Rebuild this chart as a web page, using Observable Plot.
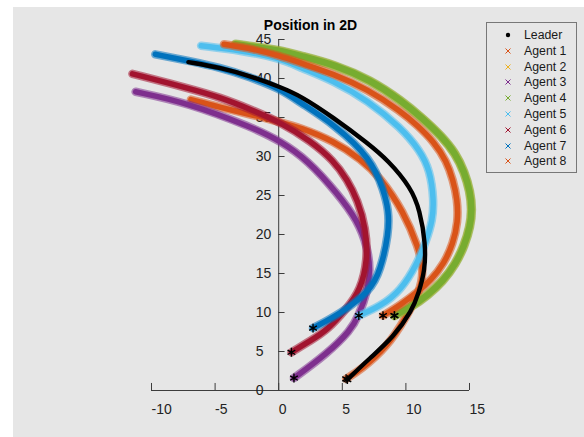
<!DOCTYPE html>
<html><head><meta charset="utf-8">
<script src="https://cdn.jsdelivr.net/npm/d3@7"></script>
<script src="https://cdn.jsdelivr.net/npm/@observablehq/plot@0.6"></script>
<style>
html,body{margin:0;padding:0;background:#fff;width:584px;height:437px;overflow:hidden;position:relative;}
#bg{position:absolute;left:13px;top:7px;right:0;bottom:0;background:#e6e6e6;}
#chart{position:absolute;left:0;top:0;}
#legend{position:absolute;left:486px;top:22px;width:91px;height:151px;border:1px solid #777;box-sizing:border-box;font-family:"Liberation Sans",Arial,sans-serif;font-size:12.3px;color:#1a1a1a;}
.row{position:absolute;left:0;height:14px;line-height:14px;width:100%;}
.row svg{position:absolute;left:16px;top:2px;}
.row span{position:absolute;left:37px;top:0;white-space:nowrap;}
</style></head>
<body>
<div id="bg"></div>
<div id="chart"></div>
<div id="legend"></div>
<script>
// ---- data ----
const seriesNames = ["Leader","Agent 1","Agent 2","Agent 3","Agent 4","Agent 5","Agent 6","Agent 7","Agent 8"];
const seriesColors = ["#000000","#D95319","#EDB120","#7E2F8E","#77AC30","#4DBEEE","#A2142F","#0072BD","#D95319"];

const leaderX = [5.4, 7.2, 9.0, 10.5, 11.0, 11.5, 11.55, 11.1, 10.4, 8.6, 7.0, 4.3, 1.7, 0.1, -2.0, -4.6, -7.1];
const leaderY = [1.4, 4.2, 6.8, 10.3, 12.5, 15.4, 18.8, 23.1, 26.0, 29.5, 31.7, 35.0, 37.8, 38.9, 40.2, 41.4, 42.1];

const agent1X = [5.3, 6.4, 8.5, 10.1, 11.1, 11.4, 11.0, 9.8, 8.0, 6.5, 4.3, 1.7, 0.1, -2.0, -4.6, -6.9];
const agent1Y = [1.5, 2.6, 5.5, 9.6, 12.8, 15.4, 18.3, 23.0, 27.3, 29.6, 32.0, 33.7, 34.4, 35.3, 36.3, 37.3];

const agent2X = [9.1, 10.4, 11.7, 12.9, 13.9, 14.6, 15.05, 15.2, 15.05, 14.6, 13.9, 12.8, 11.3, 9.6, 7.2, 4.5, 1.7, 0.1, -3.4];
const agent2Y = [9.6, 10.7, 12.2, 14.0, 16.2, 18.6, 21.0, 23.2, 25.5, 28.0, 30.4, 32.6, 34.9, 37.2, 39.8, 41.7, 42.9, 43.6, 44.4];

const agent3X = [1.2, 3.8, 5.65, 6.3, 7.0, 7.2, 7.0, 6.2, 4.6, 2.3, 0.1, -2.0, -7.2, -11.25];
const agent3Y = [1.6, 4.7, 7.7, 9.6, 12.8, 15.4, 18.3, 21.8, 25.3, 29.5, 32.0, 33.7, 36.9, 38.3];

const agent4X = [9.1, 10.4, 11.7, 12.9, 13.9, 14.6, 15.05, 15.2, 15.05, 14.6, 13.9, 12.8, 11.3, 9.6, 7.2, 4.5, 1.7, 0.1, -3.4];
const agent4Y = [9.6, 10.7, 12.2, 14.0, 16.2, 18.6, 21.0, 23.2, 25.5, 28.0, 30.4, 32.6, 34.9, 37.2, 39.8, 41.7, 42.9, 43.6, 44.4];

const agent5X = [6.3, 8.0, 9.6, 10.9, 11.6, 12.1, 12.2, 11.9, 11.1, 9.6, 7.0, 4.3, 1.7, 0.1, -3.0, -6.1];
const agent5Y = [9.6, 10.8, 12.8, 16.3, 19.2, 21.8, 24.4, 28.2, 30.8, 33.7, 37.2, 39.7, 41.4, 42.6, 43.6, 44.2];

const agent6X = [1.0, 2.5, 3.8, 5.4, 6.4, 7.0, 6.85, 6.2, 5.4, 4.3, 2.5, 0.1, -2.0, -4.6, -7.2, -11.5];
const agent6Y = [4.9, 6.4, 7.7, 10.6, 12.8, 16.7, 20.9, 24.4, 27.0, 29.5, 32.0, 34.4, 35.9, 37.6, 38.8, 40.6];

const agent7X = [2.7, 5.0, 7.2, 8.0, 8.65, 8.65, 8.25, 7.3, 4.3, 1.7, 0.1, -2.3, -4.6, -7.2, -9.7];
const agent7Y = [8.0, 10.0, 12.8, 15.4, 20.1, 23.1, 25.6, 29.7, 34.2, 36.9, 38.7, 40.2, 41.4, 42.3, 43.1];

const agent8X = [8.2, 9.6, 10.9, 12.0, 13.0, 13.7, 14.1, 14.05, 13.7, 13.2, 12.2, 10.9, 9.6, 7.0, 4.3, 1.7, 0.1, -2.0, -4.3];
const agent8Y = [9.6, 11.0, 12.6, 14.2, 16.3, 18.8, 21.6, 24.5, 27.0, 29.4, 31.9, 34.0, 35.8, 38.6, 40.6, 42.0, 42.9, 43.8, 44.4];

const xTicks = [-10, -5, 0, 5, 10, 15];
const yTicks = [0, 5, 10, 15, 20, 25, 30, 35, 40, 45];
const titleText = "Position in 2D";

// ---- build tables ----
const seriesXs = [leaderX, agent1X, agent2X, agent3X, agent4X, agent5X, agent6X, agent7X, agent8X];
const seriesYs = [leaderY, agent1Y, agent2Y, agent3Y, agent4Y, agent5Y, agent6Y, agent7Y, agent8Y];
const tables = seriesXs.map((xs, s) => xs.map((x, i) => ({x, y: seriesYs[s][i], name: seriesNames[s]})));
const starts = tables.map(t => t[0]);

const axisColor = "#3c3c3c";
const font = "Liberation Sans, Arial, sans-serif";

const agentLines = [];
for (let s = 1; s < tables.length; s++) {
  const wide = s === 4 ? 9.5 : 8.5;
  agentLines.push(Plot.line(tables[s], {x: "x", y: "y", stroke: seriesColors[s], strokeWidth: wide, strokeOpacity: 0.55, curve: "basis"}));
  agentLines.push(Plot.line(tables[s], {x: "x", y: "y", stroke: seriesColors[s], strokeWidth: wide - 3, strokeOpacity: 1, curve: "basis"}));
}

const chart = Plot.plot({
  width: 584, height: 437,
  marginLeft: 151, marginRight: 115, marginTop: 39, marginBottom: 47,
  x: {domain: [-10, 15], axis: null},
  y: {domain: [0, 45], axis: null},
  style: {background: "transparent", fontFamily: font},
  marks: [
    Plot.ruleY([0], {x1: -10, x2: 15, stroke: axisColor, strokeWidth: 1}),
    Plot.ruleX([0], {y1: 0, y2: 45, stroke: axisColor, strokeWidth: 1}),
    Plot.ruleX(xTicks, {x: d => d, y1: 0, y2: 0.9, stroke: axisColor}),
    Plot.ruleY(yTicks, {y: d => d, x1: 0, x2: 0.5, stroke: axisColor}),
    Plot.text(xTicks, {x: d => d, y: 0, dy: 19, text: d => String(d), textAnchor: "start", fontSize: 14, fill: "#222"}),
    Plot.text(yTicks, {x: 0, y: d => d, dx: -23, text: d => String(d), textAnchor: "start", fontSize: 14, fill: "#222"}),
    ...agentLines,
    Plot.line(tables[0], {x: "x", y: "y", stroke: "#000", strokeWidth: 4.4, curve: "basis"}),
    Plot.dot(starts, {x: "x", y: "y", symbol: "asterisk", r: 4.2, stroke: "#000", strokeWidth: 1.4}),
    Plot.text([titleText], {x: 2.5, y: 45, dy: -14, text: d => d, fontWeight: "bold", fontSize: 14, fill: "#000"})
  ]
});
document.getElementById("chart").appendChild(chart);

// ---- legend ----
const legend = document.getElementById("legend");
seriesNames.forEach((name, i) => {
  const row = document.createElement("div");
  row.className = "row";
  row.style.top = (5 + i * 15.8) + "px";
  const marker = i === 0
    ? `<svg width="10" height="10"><circle cx="5" cy="5" r="2.2" fill="#000"/></svg>`
    : `<svg width="10" height="10"><path d="M2.5,2.5L7.5,7.5M7.5,2.5L2.5,7.5" stroke="${seriesColors[i]}" stroke-width="1"/></svg>`;
  row.innerHTML = marker + `<span>${name}</span>`;
  legend.appendChild(row);
});
</script>
</body></html>
